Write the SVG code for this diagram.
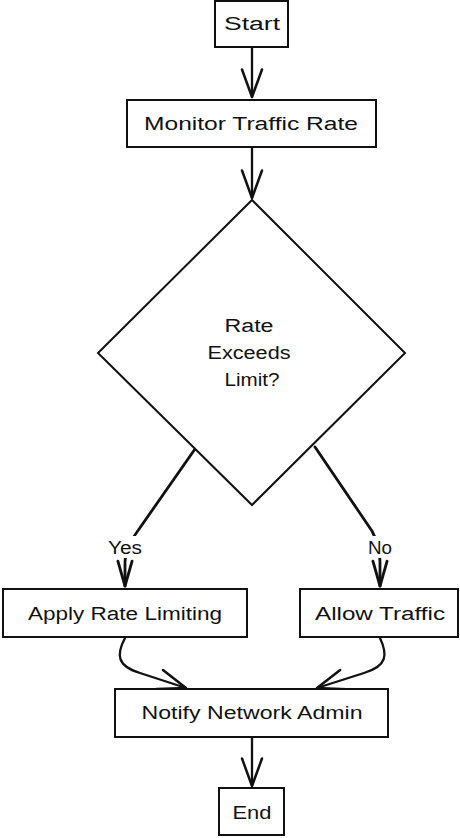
<svg xmlns="http://www.w3.org/2000/svg" width="460" height="838" viewBox="0 0 460 838">
<style>
.box{fill:#fff;stroke:#111;stroke-width:2}
.lbl{font-family:"Liberation Sans",Arial,sans-serif;font-size:18px;fill:#111;text-anchor:middle}
.edge{fill:none;stroke:#111;stroke-width:2.3;stroke-linecap:round;stroke-linejoin:round}
.thick{stroke-width:2.8}
.elbg{fill:#fff;stroke:none}
</style>
<defs>
<marker id="arr" markerUnits="userSpaceOnUse" markerWidth="30" markerHeight="24" refX="22" refY="9" orient="auto" viewBox="0 0 24 18" overflow="visible">
<path d="M0,1 L22,9 L0,17" fill="none" stroke="#111" stroke-width="2" stroke-linecap="round" stroke-linejoin="round"/>
</marker>
<marker id="arrS" markerUnits="userSpaceOnUse" markerWidth="26" markerHeight="18" refX="21" refY="7" orient="auto" viewBox="0 0 22 14" overflow="visible">
<path d="M0,1 L21,7 L0,13" fill="none" stroke="#111" stroke-width="2.4" stroke-linecap="round" stroke-linejoin="round"/>
</marker>
</defs>
<rect width="460" height="838" fill="#fff"/>
<g id="connectors">
<path class="edge" d="M252,48 L252,97" marker-end="url(#arr)"/>
<path class="edge" d="M252,148 L252,198" marker-end="url(#arr)"/>
<path class="edge thick" d="M195,449 L137,532 Q125,548 125,562 L125,586" marker-end="url(#arrS)"/>
<path class="edge thick" d="M315,447 L372,531 Q380,546 380,562 L380,586" marker-end="url(#arrS)"/>
<path class="edge" d="M125,638 C116,655 117,666 140,673 L186,688" marker-end="url(#arr)"/>
<path class="edge" d="M380,638 C388,655 387,666 364,673 L317,688" marker-end="url(#arr)"/>
<path class="edge" d="M252,738 L252,786" marker-end="url(#arr)"/>
<rect class="elbg" x="105" y="536" width="40" height="22"/>
<text class="lbl" x="125" y="554" textLength="34" lengthAdjust="spacingAndGlyphs">Yes</text>
<rect class="elbg" x="366" y="536" width="28" height="22"/>
<text class="lbl" x="380" y="554" textLength="24" lengthAdjust="spacingAndGlyphs">No</text>
</g>
<g id="start">
<rect class="box" x="215" y="1" width="73" height="46"/>
<text class="lbl" x="252" y="30" textLength="56" lengthAdjust="spacingAndGlyphs">Start</text>
</g>
<g id="monitor">
<rect class="box" x="127" y="100" width="249" height="47"/>
<text class="lbl" x="251" y="130" textLength="214" lengthAdjust="spacingAndGlyphs">Monitor Traffic Rate</text>
</g>
<g id="decision">
<polygon class="box" points="252,200 405,353 252,505 98,353"/>
<text class="lbl" x="249" y="332" textLength="49" lengthAdjust="spacingAndGlyphs">Rate</text>
<text class="lbl" x="249" y="359" textLength="83" lengthAdjust="spacingAndGlyphs">Exceeds</text>
<text class="lbl" x="252" y="386" textLength="55" lengthAdjust="spacingAndGlyphs">Limit?</text>
</g>
<g id="apply">
<rect class="box" x="3" y="589" width="244" height="48"/>
<text class="lbl" x="125" y="620" textLength="194" lengthAdjust="spacingAndGlyphs">Apply Rate Limiting</text>
</g>
<g id="allow">
<rect class="box" x="300" y="589" width="158" height="48"/>
<text class="lbl" x="380" y="620" textLength="130" lengthAdjust="spacingAndGlyphs">Allow Traffic</text>
</g>
<g id="notify">
<rect class="box" x="115" y="689" width="273" height="48"/>
<text class="lbl" x="252" y="719" textLength="221" lengthAdjust="spacingAndGlyphs">Notify Network Admin</text>
</g>
<g id="end">
<rect class="box" x="219" y="788" width="65" height="47"/>
<text class="lbl" x="252" y="819" textLength="39" lengthAdjust="spacingAndGlyphs">End</text>
</g>
</svg>
